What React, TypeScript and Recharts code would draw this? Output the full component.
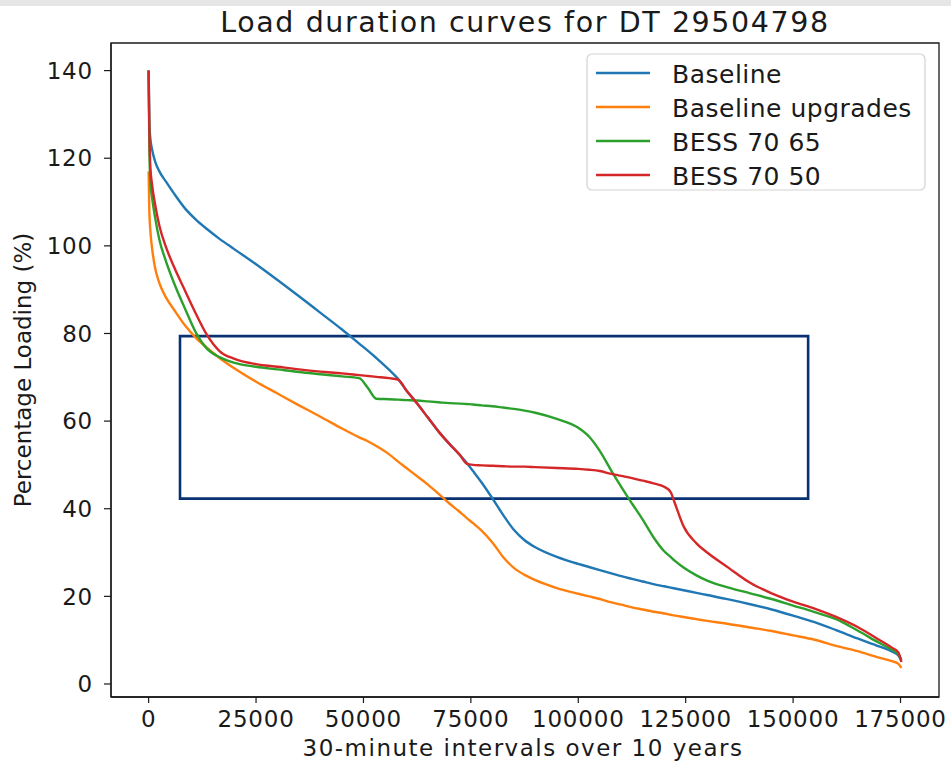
import React from 'react';
import { LineChart, Line, XAxis, YAxis, ReferenceArea } from 'recharts';

// 30-minute interval index (sorted load duration)
const intervals = [
  0, 150, 400, 800, 1500, 2500, 4000, 6000, 8500, 11000, 13500, 16500, 20000, 25000, 30000, 35000,
  40000, 45000, 49000, 51000, 53000, 56000, 58000, 60000, 62500, 65000, 67500, 70000, 72500, 74000,
  75500, 77500, 80000, 82500, 85000, 87500, 90000, 95000, 100000, 102500, 105000, 107500, 110000,
  112500, 115000, 117500, 120000, 121500, 122500, 124500, 127500, 130000, 135000, 140000, 145000,
  150000, 155000, 160000, 165000, 170000, 173000, 174500, 175200,
];

const baseline = [
  140, 128, 124.5, 122, 119.3, 117, 114.7, 111.8, 108.5, 106, 103.9, 101.6, 99.2, 95.8, 92.2, 88.5,
  84.7, 80.9, 77.7, 76.1, 74.4, 71.7, 69.7, 67, 64, 60.8, 57.6, 54.8, 52.2, 50.5,
  48.6, 46, 42.4, 38.6, 35.2, 32.8, 31.2, 29, 27.4, 26.7, 26, 25.3, 24.6,
  24, 23.4, 22.8, 22.3, 22, 21.8, 21.4, 20.8, 20.3, 19.3, 18.2, 17,
  15.6, 14.1, 12.3, 10.4, 8.6, 7.4, 6.5, 5.3,
];

const baselineUpgrades = [
  117, 108.5, 103.5, 99.5, 95, 91.5, 88.3, 85.3, 81.8, 79, 76.8, 74.4, 72, 69, 66.3, 63.6,
  61, 58.3, 56.3, 55.4, 54.3, 52.4, 50.8, 49.3, 47.4, 45.5, 43.4, 41.2, 39.2, 37.9,
  36.7, 35, 32.3, 29, 26.5, 24.9, 23.7, 21.9, 20.6, 20, 19.4, 18.7, 18.1,
  17.5, 17, 16.5, 16.1, 15.8, 15.6, 15.3, 14.8, 14.4, 13.7, 12.9, 12.1,
  11.1, 10.1, 8.7, 7.5, 6, 5.2, 4.6, 3.7,
];

const bess7065 = [
  140, 124, 114.5, 111, 106.5, 101.4, 96.6, 91.3, 85.6, 80.2, 76.6, 74.6, 73.3, 72.4, 71.8, 71.2,
  70.7, 70.2, 69.8, 67.6, 65.1, 65, 64.9, 64.8, 64.7, 64.5, 64.3, 64.1, 64, 63.9,
  63.8, 63.6, 63.4, 63.1, 62.8, 62.4, 61.9, 60.5, 58.5, 56.5, 53.2, 49, 45,
  41.2, 37.5, 33.5, 30.3, 29, 28.1, 26.6, 24.8, 23.6, 22, 20.7, 19.4,
  17.9, 16.4, 14.8, 12.2, 9.4, 7.8, 6.8, 5.5,
];

const bess7050 = [
  140, 128, 118, 114, 109.5, 104.6, 99.8, 95, 89.7, 84.5, 79.8, 76, 74.2, 73, 72.4, 71.8,
  71.3, 70.9, 70.5, 70.3, 70.1, 69.8, 69.5, 67, 64, 60.8, 57.6, 54.8, 52.2, 50.3,
  50, 49.9, 49.8, 49.7, 49.6, 49.6, 49.5, 49.3, 49.1, 48.9, 48.6, 48, 47.5,
  47, 46.4, 45.8, 45, 43.8, 41.2, 36, 32.1, 30, 26.5, 23.1, 20.7,
  18.8, 17.2, 15.3, 13, 10.1, 8.3, 7.2, 5,
];

const xTicks = [0, 25000, 50000, 75000, 100000, 125000, 150000, 175000];
const yTicks = [0, 20, 40, 60, 80, 100, 120, 140];

const seriesKeys = ['baseline', 'upgrades', 'bess65', 'bess50'];
const seriesNames = ['Baseline', 'Baseline upgrades', 'BESS 70 65', 'BESS 70 50'];
const seriesColors = ['#1f77b4', '#ff7f0e', '#2ca02c', '#d62728'];

// highlighted region (x range, y range)
const boxX = [7300, 153500];
const boxY = [42.3, 79.4];

const xDomain = [-8760, 183960];
const yDomain = [-2.97, 146.3];

const chartData = intervals.map((x, i) => ({
  x,
  baseline: baseline[i],
  upgrades: baselineUpgrades[i],
  bess65: bess7065[i],
  bess50: bess7050[i],
}));

const FONT = '"DejaVu Sans", sans-serif';
const INK = '#1a1a1a';

export default function App() {
  return (
    <div style={{ position: 'absolute', left: 0, top: 0, width: 951, height: 762, background: '#fff' }}>
      <div style={{ position: 'absolute', left: 0, top: 0, width: 951, height: 6, background: '#e6e6e6' }} />
      <LineChart width={951} height={762} data={chartData} margin={{ top: 43, right: 12, bottom: 0, left: 11 }}>
        <XAxis
          dataKey="x"
          type="number"
          domain={xDomain}
          ticks={xTicks}
          allowDataOverflow
          height={65}
          tickSize={6}
          tickMargin={8}
          stroke={INK}
          tick={{ fontSize: 23, fill: INK, fontFamily: FONT, letterSpacing: 0.8 }}
          tickLine={{ stroke: INK, strokeWidth: 1.2 }}
          axisLine={{ stroke: INK, strokeWidth: 1.3 }}
        />
        <YAxis
          type="number"
          domain={yDomain}
          ticks={yTicks}
          allowDataOverflow
          width={100}
          tickSize={7}
          tickMargin={11}
          stroke={INK}
          tick={{ fontSize: 23, fill: INK, fontFamily: FONT, letterSpacing: 0.8 }}
          tickLine={{ stroke: INK, strokeWidth: 1.2 }}
          axisLine={{ stroke: INK, strokeWidth: 1.3 }}
        />
        <ReferenceArea
          x1={xDomain[0]}
          x2={xDomain[1]}
          y1={yDomain[0]}
          y2={yDomain[1]}
          fill="none"
          stroke={INK}
          strokeWidth={1.3}
          ifOverflow="visible"
        />
        <ReferenceArea
          x1={boxX[0]}
          x2={boxX[1]}
          y1={boxY[0]}
          y2={boxY[1]}
          fill="none"
          fillOpacity={0}
          stroke="#0a3272"
          strokeWidth={2.6}
          ifOverflow="visible"
        />
        {seriesKeys.map((key, i) => (
          <Line
            key={key}
            type="monotone"
            dataKey={key}
            name={seriesNames[i]}
            stroke={seriesColors[i]}
            strokeWidth={2.4}
            dot={false}
            activeDot={false}
            isAnimationActive={false}
          />
        ))}
      </LineChart>

      <svg
        width={951}
        height={762}
        style={{ position: 'absolute', left: 0, top: 0, pointerEvents: 'none' }}
        fontFamily={FONT}
      >
        <text x={525} y={32} textAnchor="middle" fontSize={28.5} letterSpacing={1.6} fill={INK}>
          Load duration curves for DT 29504798
        </text>
        <text x={523} y={756} textAnchor="middle" fontSize={23} letterSpacing={1.5} fill={INK}>
          30-minute intervals over 10 years
        </text>
        <text
          x={31}
          y={370}
          textAnchor="middle"
          fontSize={23}
          fill={INK}
          transform="rotate(-90 31 370)"
        >
          Percentage Loading (%)
        </text>

        <rect x={587} y={54} width={338} height={136} rx={5} fill="#fff" fillOpacity={0.8} stroke="#d3d3d3" strokeWidth={1.2} />
        {seriesNames.map((name, i) => (
          <g key={name}>
            <line x1={596} x2={650} y1={73 + i * 34} y2={73 + i * 34} stroke={seriesColors[i]} strokeWidth={2.3} />
            <text x={672} y={82.5 + i * 34} fontSize={25} letterSpacing={0.5} fill={INK}>
              {name}
            </text>
          </g>
        ))}
      </svg>
    </div>
  );
}
